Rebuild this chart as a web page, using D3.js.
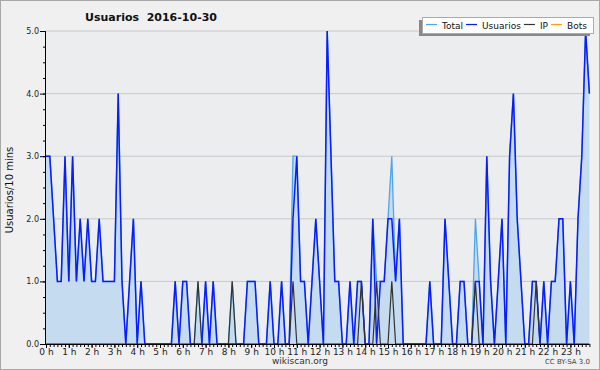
<!DOCTYPE html>
<html><head><meta charset="utf-8">
<script src="https://cdn.jsdelivr.net/npm/d3@7"></script>
<style>
html,body{margin:0;padding:0;background:#f0f0f0;}
svg{display:block;}
text{font-family:"DejaVu Sans",sans-serif;}
</style></head>
<body>
<svg id="c" width="600" height="370"></svg>
<script>
// ---- data (10-minute intervals, 144 per day) ----
const title = "Usuarios  2016-10-30";
const yTitle = "Usuarios/10 mins";
const seriesNames = ["Total", "Usuarios", "IP", "Bots"];
const seriesColors = ["#4ca6ee", "#0a1cff", "#333333", "#ffa200"];
const yTicks = [0, 1, 2, 3, 4, 5];
const hourLabels = d3.range(24).map(h => h + " h");

const usuarios = [
 3,3,2,1,1,3,1,3,1,2,1,2,1,1,2,1,1,1,1,4,1,0,1,2,0,1,0,0,0,0,0,0,0,0,1,0,
 1,1,0,0,0,0,1,0,1,0,0,0,0,0,0,0,0,1,1,1,0,0,0,1,0,0,1,0,0,2,3,1,1,0,1,2,
 1,0,5,3,1,1,0,0,1,0,1,1,0,0,2,0,1,1,2,2,1,2,0,0,0,0,0,0,0,1,0,0,0,2,1,0,
 0,1,1,0,0,1,1,0,3,1,0,1,2,0,3,4,2,1,0,0,1,1,0,1,0,1,1,2,2,0,1,0,2,3,5,4
];
const total = [
 3,3,2,1,1,3,1,3,1,2,1,2,1,1,2,1,1,1,1,4,1,0,1,2,0,1,0,0,0,0,0,0,0,0,1,0,
 1,1,0,0,1,0,1,0,1,0,0,0,0,1,0,0,0,1,1,1,0,0,0,1,0,0,1,0,0,3,3,1,1,0,1,2,
 1,0,5,3,1,1,0,0,1,0,1,1,0,0,2,1,1,1,2,3,1,2,0,0,0,0,0,0,0,1,0,0,0,2,1,0,
 0,1,1,0,0,2,1,0,3,1,0,1,2,0,3,4,2,1,0,0,1,1,0,1,0,1,1,2,2,0,1,0,2,3,5,4
];
const ip = [
 0,0,0,0,0,0,0,0,0,0,0,0,0,0,0,0,0,0,0,0,0,0,0,0,0,0,0,0,0,0,0,0,0,0,0,0,
 0,0,0,0,1,0,0,0,0,0,0,0,0,1,0,0,0,0,0,0,0,0,0,0,0,0,0,0,0,1,0,0,0,0,0,0,
 0,0,0,0,0,0,0,0,0,0,0,1,0,0,0,1,0,0,0,1,0,0,0,0,0,0,0,0,0,0,0,0,0,0,0,0,
 0,0,0,0,0,1,0,0,0,0,0,0,0,0,0,0,0,0,0,0,0,1,0,0,0,0,0,0,0,0,0,0,0,0,0,0
];
const bots = new Array(144).fill(0);

// ---- layout ----
const svg = d3.select("#c");
const W = 600, H = 370;
const x0 = 46, x1 = 589.4, yTop = 31, yBot = 344;
const n = usuarios.length;

const x = d3.scaleLinear().domain([0, n - 1]).range([x0, x1]);
const y = d3.scaleLinear().domain([0, 5]).range([yBot, yTop]);

svg.append("rect").attr("x", 0.5).attr("y", 0.5).attr("width", W - 1).attr("height", H - 1)
  .attr("fill", "#f0f0f0").attr("stroke", "#a8a8a8");

svg.append("rect").attr("x", x0).attr("y", yTop).attr("width", x1 - x0).attr("height", yBot - yTop)
  .attr("fill", "#ebedef");

// grid
svg.append("g").selectAll("line").data(yTicks.filter(v => v > 0)).join("line")
  .attr("x1", x0).attr("x2", x1).attr("y1", d => y(d)).attr("y2", d => y(d))
  .attr("stroke", "#c8c8cc").attr("stroke-width", 1);

// area under total
const area = d3.area().x((d, i) => x(i)).y0(y(0)).y1(d => y(d));
svg.append("path").datum(total).attr("d", area).attr("fill", "#c5dcf0");

const line = d3.line().x((d, i) => x(i)).y(d => y(d));
const seriesData = [total, usuarios, ip, bots];
const widths = [1.3, 1.5, 1.2, 1.2];
[0, 3, 1, 2].forEach(k => {
  svg.append("path").datum(seriesData[k]).attr("d", line)
    .attr("fill", "none").attr("stroke", seriesColors[k])
    .attr("stroke-width", widths[k]).attr("stroke-linejoin", "miter");
});

// axes
const gx = svg.append("g").attr("transform", `translate(0,${yBot})`);
gx.call(d3.axisBottom(x).tickValues(d3.range(0, n)).tickSize(3).tickFormat(""));
gx.call(g => g.select(".domain").remove());
const gx2 = svg.append("g").attr("transform", `translate(0,${yBot})`);
gx2.call(d3.axisBottom(x).tickValues(d3.range(0, n, 6)).tickSize(4).tickPadding(1)
  .tickFormat(d => hourLabels[d / 6]));
gx2.select(".domain").attr("d", `M${x0},0.5H${x1}`);
svg.selectAll("g.tick line").attr("stroke", "#000");
gx2.selectAll("text").attr("font-size", 9).attr("font-family", "DejaVu Sans").attr("fill", "#222");

const gy = svg.append("g").attr("transform", `translate(${x0},0)`);
gy.call(d3.axisLeft(y).tickValues(d3.range(0, 5.01, 0.25)).tickSize(3).tickFormat(""));
gy.call(g => g.select(".domain").remove());
const gy2 = svg.append("g").attr("transform", `translate(${x0},0)`);
gy2.call(d3.axisLeft(y).tickValues(yTicks).tickSize(6).tickPadding(1).tickFormat(d3.format(".1f")));
gy2.select(".domain").attr("d", `M-0.5,${yTop}V${yBot}`);
gy2.selectAll("text").attr("font-size", 8).attr("font-family", "DejaVu Sans").attr("fill", "#222");

// titles
svg.append("text").attr("x", 151).attr("y", 21).attr("text-anchor", "middle")
  .style("white-space", "pre")
  .attr("font-size", 11).attr("font-weight", "bold").attr("fill", "#111").text(title);
svg.append("text").attr("transform", "translate(13,190) rotate(-90)").attr("text-anchor", "middle")
  .attr("font-size", 10).attr("fill", "#111").text(yTitle);
svg.append("text").attr("x", 300).attr("y", 364).attr("text-anchor", "middle")
  .attr("font-size", 9).attr("fill", "#333").text("wikiscan.org");
svg.append("text").attr("x", 590).attr("y", 364).attr("text-anchor", "end")
  .attr("font-size", 7).attr("fill", "#444").text("CC BY-SA 3.0");

// legend
const lg = svg.append("g");
const lx = 422, ly = 17, lw = 171, lh = 16;
lg.append("rect").attr("x", lx - 3).attr("y", ly + 3).attr("width", lw).attr("height", lh).attr("fill", "#888");
lg.append("rect").attr("x", lx + 0.5).attr("y", ly + 0.5).attr("width", lw).attr("height", lh)
  .attr("fill", "#fff").attr("stroke", "#aaa");
let cx = lx + 4;
seriesNames.forEach((name, k) => {
  lg.append("line").attr("x1", cx).attr("x2", cx + 11).attr("y1", ly + 7.5).attr("y2", ly + 7.5)
    .attr("stroke", seriesColors[k]).attr("stroke-width", 1.2);
  const t = lg.append("text").attr("x", cx + 16).attr("y", ly + 11.5).attr("font-size", 9)
    .attr("fill", "#111").text(name);
  cx = cx + 16 + t.node().getComputedTextLength() + 3;
});
</script>
</body></html>
